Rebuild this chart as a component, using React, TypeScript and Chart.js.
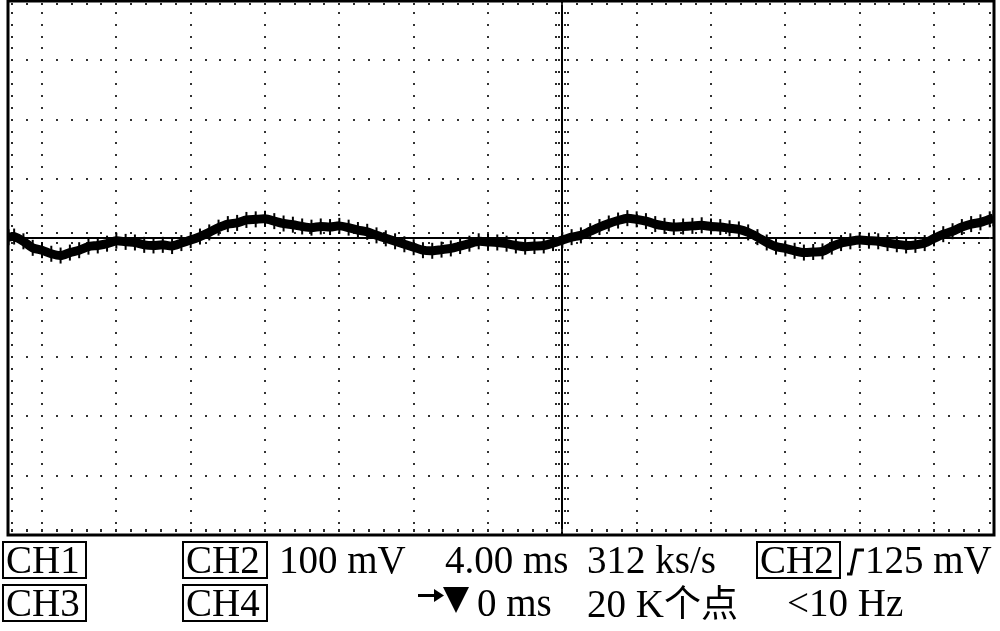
import React, { useEffect, useRef } from "react";
import { Chart, registerables } from "chart.js";

Chart.register(...registerables);

const timeMs = [
  -29.8, -29.5, -29, -28.5, -28, -27.5, -27, -26.5, -26, -25.5, -25, -24.5, -24, -23.5, -23, -22.5,
  -22, -21.5, -21, -20.5, -20, -19.5, -19, -18.5, -18, -17.5, -17, -16.5, -16, -15.5, -15, -14.5,
  -14, -13.5, -13, -12.5, -12, -11.5, -11, -10.5, -10, -9.5, -9, -8.5, -8, -7.5, -7, -6.5,
  -6, -5.5, -5, -4.5, -4, -3.5, -3, -2.5, -2, -1.5, -1, -0.5, 0, 0.5, 1, 1.5,
  2, 2.5, 3, 3.5, 4, 4.5, 5, 5.5, 6, 6.5, 7, 7.5, 8, 8.5, 9, 9.5,
  10, 10.5, 11, 11.5, 12, 12.5, 13, 13.5, 14, 14.5, 15, 15.5, 16, 16.5, 17, 17.5,
  18, 18.5, 19, 19.5, 20, 20.5, 21, 21.5, 22, 22.5, 23, 23.2,
];
const ch2mV = [
  2, 3, -5, -16, -20, -26, -29, -24, -20, -14, -12, -9, -4, -6, -7, -11,
  -12, -11, -13, -8, -3, 3, 10, 18, 24, 26, 31, 32, 33, 29, 25, 23,
  20, 18, 20, 19, 21, 18, 14, 11, 5, 0, -5, -10, -15, -20, -21, -19,
  -17, -13, -9, -5, -6, -7, -9, -12, -14, -13, -12, -8, -3, 2, 5, 12,
  19, 25, 30, 34, 32, 29, 24, 21, 19, 20, 21, 22, 20, 19, 17, 15,
  10, 2, -7, -14, -17, -21, -24, -23, -22, -14, -8, -5, -3, -4, -5, -8,
  -10, -12, -11, -8, 0, 7, 12, 19, 24, 27, 32, 34,
];

// Screen settings
const xMinMs = -29.83;
const xMaxMs = 23.23;
const yMinMv = -500;
const yMaxMv = 400;
const xDivMs = 4;
const yDivMv = 100;

// canvas is drawn 10px larger on every side so Chart.js' point overflow padding never moves the plot
const OFF = 10;

const scopeGrid = {
  id: "scopeGrid",
  beforeDatasetsDraw(chart: any) {
    const ctx = chart.ctx;
    const xs = chart.scales.x;
    const ys = chart.scales.y;
    const area = chart.chartArea;
    const px = (t: number) => xs.getPixelForValue(t);
    const py = (v: number) => ys.getPixelForValue(v);
    const xMinor = xDivMs / 5;
    const yMinor = yDivMv / 5;
    ctx.save();
    ctx.fillStyle = "#333";
    for (let k = -7; k <= 5; k++) {
      if (k === 0) continue;
      const x = Math.round(px(k * xDivMs));
      for (let m = -24; m <= 19; m++) {
        const y = Math.round(py(m * yMinor));
        if (y < area.top + 3 || y > area.bottom - 3) continue;
        ctx.fillRect(x - 1, y - 1, 2, 2);
      }
    }
    for (let j = -4; j <= 3; j++) {
      if (j === 0) continue;
      const y = Math.round(py(j * yDivMv));
      for (let n = -40; n <= 30; n++) {
        const x = Math.round(px(n * xMinor));
        if (x < area.left + 3 || x > area.right - 3) continue;
        ctx.fillRect(x - 1, y - 1, 2, 2);
      }
    }
    ctx.fillStyle = "#000";
    const cx = Math.round(px(0));
    const cy = Math.round(py(0));
    ctx.fillRect(area.left, cy - 1, area.right - area.left, 2);
    ctx.fillRect(cx - 1, area.top, 2, area.bottom - area.top);
    ctx.fillStyle = "#2a2a2a";
    for (let n = -40; n <= 30; n++) {
      const x = Math.round(px(n * xMinor));
      if (x < area.left + 3 || x > area.right - 3) continue;
      ctx.fillRect(x - 1, cy - 6, 2, 2);
      ctx.fillRect(x - 1, cy + 4, 2, 2);
      ctx.fillRect(x - 1, area.top + 2, 2, 2);
      ctx.fillRect(x - 1, area.bottom - 6, 2, 3);
    }
    for (let m = -24; m <= 19; m++) {
      const y = Math.round(py(m * yMinor));
      if (y < area.top + 3 || y > area.bottom - 3) continue;
      ctx.fillRect(cx - 7, y - 1, 2, 2);
      ctx.fillRect(cx - 4, y - 1, 2, 2);
      ctx.fillRect(cx + 2, y - 1, 2, 2);
      ctx.fillRect(cx + 5, y - 1, 2, 2);
      ctx.fillRect(area.left + 3, y - 1, 2, 2);
      ctx.fillRect(area.right - 5, y - 1, 2, 2);
    }
    ctx.restore();
  },
  afterDraw(chart: any) {
    const ctx = chart.ctx;
    const a = chart.chartArea;
    ctx.save();
    ctx.strokeStyle = "#000";
    ctx.lineWidth = 3;
    ctx.strokeRect(a.left, a.top, a.right - a.left, a.bottom - a.top);
    ctx.restore();
  },
};

const serif = '"Liberation Serif", "Times New Roman", serif';
const FS = 39;

function Txt(props: { x: number; y: number; children: any; font?: string; size?: number }) {
  return (
    <div
      style={{
        position: "absolute",
        left: props.x,
        top: props.y,
        fontFamily: props.font || serif,
        fontSize: props.size || FS,
        lineHeight: 1,
        whiteSpace: "nowrap",
        color: "#000",
      }}
    >
      {props.children}
    </div>
  );
}

function Box(props: { x: number; y: number; w: number; h: number; label: string }) {
  return (
    <div
      style={{
        position: "absolute",
        left: props.x,
        top: props.y,
        width: props.w,
        height: props.h,
        boxSizing: "border-box",
        border: "2px solid #000",
      }}
    >
      <div
        style={{
          position: "absolute",
          left: 2,
          top: -3,
          fontFamily: serif,
          fontSize: FS,
          lineHeight: 1,
          whiteSpace: "nowrap",
        }}
      >
        {props.label}
      </div>
    </div>
  );
}

export default function App() {
  const ref = useRef<HTMLCanvasElement | null>(null);
  useEffect(() => {
    if (!ref.current) return;
    const chart = new Chart(ref.current, {
      type: "line",
      data: {
        datasets: [
          {
            label: "CH2",
            data: timeMs.map((t, i) => ({ x: t, y: ch2mV[i] })),
            borderColor: "#000",
            backgroundColor: "#000",
            borderWidth: 9,
            pointStyle: "line",
            pointRotation: 90,
            pointRadius: 8,
            pointBorderWidth: 2,
            pointBorderColor: "#000",
            tension: 0.25,
          },
        ],
      },
      options: {
        animation: false,
        responsive: false,
        devicePixelRatio: 1,
        layout: { padding: { left: 8 + OFF, right: 6 + OFF, top: 1 + OFF, bottom: 96 + OFF } },
        scales: {
          x: { type: "linear", min: xMinMs, max: xMaxMs, display: false },
          y: { type: "linear", min: yMinMv, max: yMaxMv, display: false },
        },
        plugins: { legend: { display: false }, tooltip: { enabled: false } },
      },
      plugins: [scopeGrid],
    });
    return () => chart.destroy();
  }, []);

  return (
    <div style={{ position: "fixed", left: 0, top: 0, width: 1000, height: 631, background: "#fff", overflow: "hidden" }}>
      <canvas
        ref={ref}
        width={1000 + 2 * OFF}
        height={631 + 2 * OFF}
        style={{ position: "absolute", left: -OFF, top: -OFF }}
      />
      <Box x={2} y={541} w={85} h={38} label="CH1" />
      <Box x={182} y={541} w={86} h={38} label="CH2" />
      <Txt x={279} y={540}>100 mV</Txt>
      <Txt x={445} y={540}>4.00 ms</Txt>
      <Txt x={587} y={540}>312 ks/s</Txt>
      <Box x={756} y={541} w={85} h={38} label="CH2" />
      <svg style={{ position: "absolute", left: 840, top: 540 }} width={30} height={40}>
        <polyline points="7,34 11,34 16,10 24,10" fill="none" stroke="#000" strokeWidth={3} />
      </svg>
      <Txt x={865} y={540}>125 mV</Txt>
      <Box x={2} y={584} w={85} h={38} label="CH3" />
      <Box x={182} y={584} w={86} h={38} label="CH4" />
      <svg style={{ position: "absolute", left: 416, top: 586 }} width={30} height={20}>
        <line x1={2} y1={9.5} x2={20} y2={9.5} stroke="#000" strokeWidth={3} />
        <polygon points="18,3 28,9.5 18,16" fill="#000" />
      </svg>
      <svg style={{ position: "absolute", left: 443, top: 587 }} width={28} height={28}>
        <polygon points="0,0 26,0 13,26" fill="#000" />
      </svg>
      <Txt x={477} y={583}>0 ms</Txt>
      <Txt x={587} y={583}>
        20 K<span style={{ fontFamily: '"Noto Sans CJK SC", sans-serif', fontSize: 37 }}>个点</span>
      </Txt>
      <Txt x={787} y={583}>&lt;10 Hz</Txt>
    </div>
  );
}
